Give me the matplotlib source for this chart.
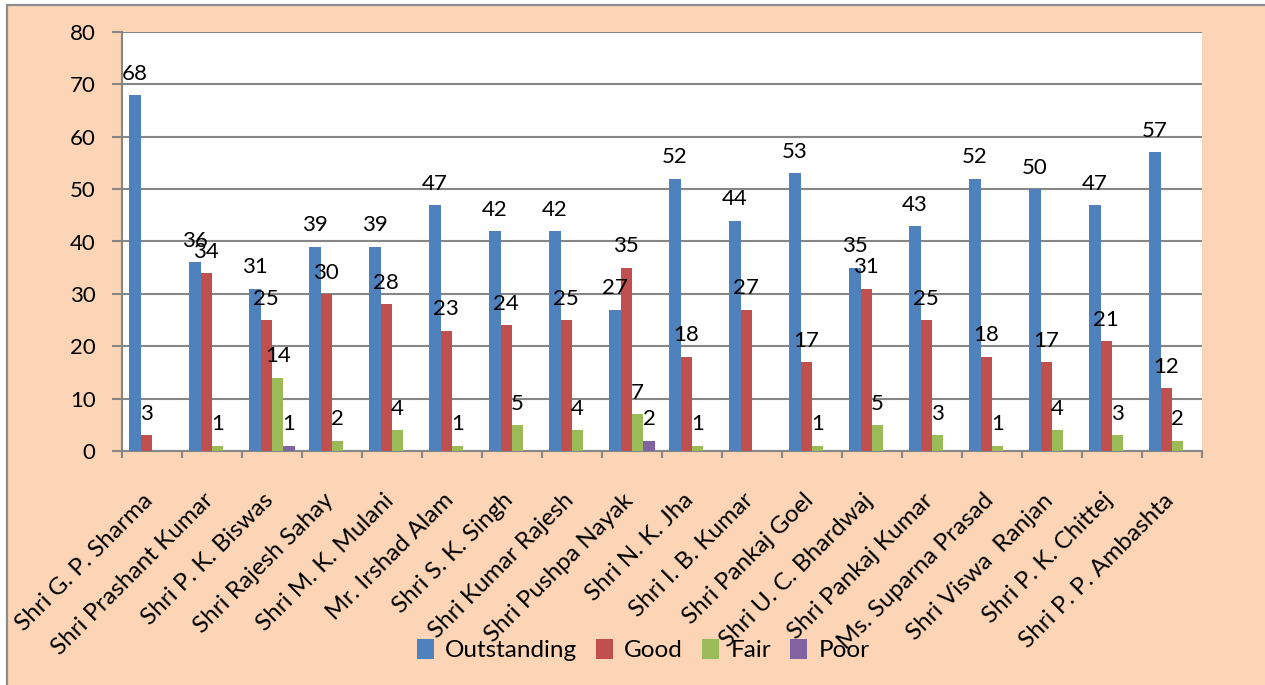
import matplotlib
matplotlib.use("Agg")
import matplotlib.pyplot as plt
import matplotlib.transforms as mtransforms
from matplotlib.patches import Rectangle, Patch
import numpy as np

plt.rcParams['font.family'] = ['Lato', 'DejaVu Sans']

categories = [
    "Shri G. P. Sharma", "Shri Prashant Kumar", "Shri P. K. Biswas",
    "Shri Rajesh Sahay", "Shri M. K. Mulani", "Mr. Irshad Alam",
    "Shri S. K. Singh", "Shri Kumar Rajesh", "Shri Pushpa Nayak",
    "Shri N. K. Jha", "Shri I. B. Kumar", "Shri Pankaj Goel",
    "Shri U. C. Bhardwaj", "Shri Pankaj Kumar", "Ms. Suparna Prasad",
    "Shri Viswa  Ranjan", "Shri P. K. Chittej", "Shri P. P. Ambashta",
]
outstanding = [68, 36, 31, 39, 39, 47, 42, 42, 27, 52, 44, 53, 35, 43, 52, 50, 47, 57]
good = [3, 34, 25, 30, 28, 23, 24, 25, 35, 18, 27, 17, 31, 25, 18, 17, 21, 12]
fair = [0, 1, 14, 2, 4, 1, 5, 4, 7, 1, 0, 1, 5, 3, 1, 4, 3, 2]
poor = [0, 0, 1, 0, 0, 0, 0, 0, 2, 0, 0, 0, 0, 0, 0, 0, 0, 0]

series_names = ["Outstanding", "Good", "Fair", "Poor"]
series_values = [outstanding, good, fair, poor]
series_colors = ["#4F81BD", "#C0504D", "#9BBB59", "#8064A2"]

W, H = 1265, 685
fig = plt.figure(figsize=(W / 100, H / 100), dpi=100)
fig.patch.set_facecolor("white")

# peach chart area with a grey frame
frame = Rectangle((7 / W, -0.05), 1.1, (H - 5) / H + 0.05,
                  transform=fig.transFigure, facecolor="#FBD5B5",
                  edgecolor="#8C8C8C", linewidth=1.6, zorder=-5)
fig.patches.append(frame)

left, right, top, bottom = 122, 1202, 32, 451
ax = fig.add_axes([left / W, (H - bottom) / H, (right - left) / W, (bottom - top) / H])
ax.set_facecolor("white")

n = len(categories)
x = np.arange(n)
bw = 0.19
grid_col = "#868686"

for i, (name, vals, col) in enumerate(zip(series_names, series_values, series_colors)):
    pos = x + (i - 1.5) * bw
    ax.bar(pos, vals, width=bw, color=col, label=name, zorder=3)
    for p, v in zip(pos, vals):
        if v > 0:
            ax.annotate(str(v), (p, v), xytext=(0, 11), textcoords="offset points",
                        ha="center", va="baseline", fontsize=16, color="black",
                        zorder=5)

ax.set_xlim(-0.5, n - 0.5)
ax.set_ylim(0, 80)
ax.set_yticks(range(0, 81, 10))
ax.yaxis.grid(True, color=grid_col, linewidth=1.5, zorder=1)
ax.tick_params(axis="y", labelsize=16, length=7, width=1.5, color=grid_col, pad=12)

# category boundary ticks
ax.set_xticks(np.arange(-0.5, n, 1.0))
ax.set_xticklabels([])
ax.tick_params(axis="x", length=5, width=1.5, color=grid_col, direction="out")

for s in ["top", "right"]:
    ax.spines[s].set_visible(False)
for s in ["left", "bottom"]:
    ax.spines[s].set_color(grid_col)
    ax.spines[s].set_linewidth(1.5)

# rotated category labels
offset = mtransforms.ScaledTranslation(-2 / 100, -46 / 100, fig.dpi_scale_trans)
trans = mtransforms.blended_transform_factory(ax.transData, ax.transAxes) + offset
for xi, lab in zip(x, categories):
    ax.text(xi, 0, lab, transform=trans, rotation=45, rotation_mode="anchor",
            ha="right", va="center", fontsize=17.5, clip_on=False)

handles = [Patch(facecolor=c, edgecolor="none") for c in series_colors]
fig.legend(handles, series_names, loc="center", bbox_to_anchor=(643 / W, (H - 650) / H),
           ncol=4, frameon=False, fontsize=17.5, handlelength=0.7, handleheight=0.9,
           handletextpad=0.45, columnspacing=0.8)

fig.savefig("out.png", dpi=100, facecolor=fig.get_facecolor())
